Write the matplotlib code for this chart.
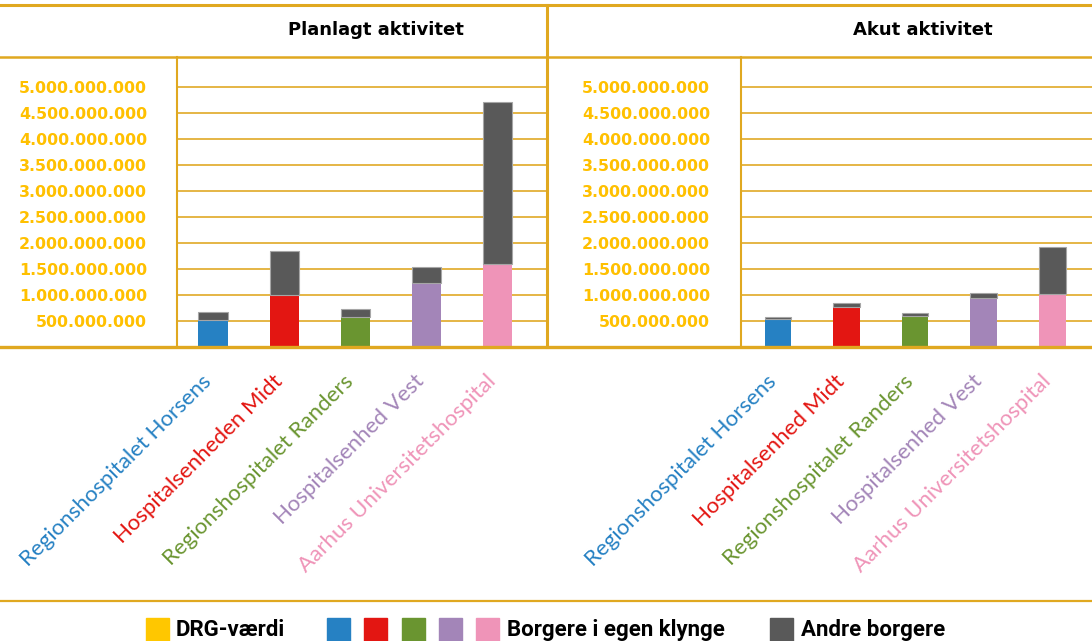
import matplotlib
matplotlib.use("Agg")
import matplotlib.pyplot as plt
from matplotlib.patches import Rectangle
from matplotlib.lines import Line2D
import matplotlib.transforms as mtransforms

# data (kr.)
hosp_plan = ['Regionshospitalet Horsens', 'Hospitalsenheden Midt', 'Regionshospitalet Randers',
             'Hospitalsenhed Vest', 'Aarhus Universitetshospital']
hosp_akut = ['Regionshospitalet Horsens', 'Hospitalsenhed Midt', 'Regionshospitalet Randers',
             'Hospitalsenhed Vest', 'Aarhus Universitetshospital']
egen_plan = [0.52e9, 1.00e9, 0.58e9, 1.23e9, 1.60e9]
andre_plan = [0.15e9, 0.85e9, 0.15e9, 0.31e9, 3.11e9]
egen_akut = [0.53e9, 0.77e9, 0.59e9, 0.95e9, 1.02e9]
andre_akut = [0.04e9, 0.08e9, 0.06e9, 0.09e9, 0.90e9]
yticks = [0.5e9, 1e9, 1.5e9, 2e9, 2.5e9, 3e9, 3.5e9, 4e9, 4.5e9, 5e9]
titles = ['Planlagt aktivitet', 'Akut aktivitet']
legend_labels = ['DRG-værdi', 'Borgere i egen klynge', 'Andre borgere']

hosp_colors = ['#2681C3', '#E31612', '#6A9530', '#A385B8', '#EF94B8']
dark = '#595959'
drg = '#FFC700'
gold = '#E0A820'
grid = '#E5B545'
lab_yellow = '#FFC000'

W, H = 1092, 641
fig = plt.figure(figsize=(W / 100, H / 100), dpi=100)

def fx(px):
    return px / W

def fy(py):
    return 1 - py / H

base = 347
top = 57
ymax = (base - top) / 52 * 1e9

def panel(left_px, right_px, xl, xr, width, names, egen, andre, pad):
    ax = fig.add_axes([fx(left_px), fy(base), fx(right_px - left_px), (base - top) / H])
    x = list(range(len(names)))
    ax.bar(x, egen, width=width, color=hosp_colors, zorder=3)
    ax.bar(x, andre, width=width, bottom=egen, color=dark, edgecolor='#A6A6A6',
           linewidth=0.8, zorder=3)
    ax.set_xlim(xl, xr)
    ax.set_ylim(0, ymax)
    ax.set_yticks(yticks)
    ax.set_yticklabels([f"{v:,.0f}".replace(",", ".") for v in yticks],
                       color=lab_yellow, fontweight='bold', fontsize=11.4)
    ax.yaxis.grid(True, color=grid, linewidth=1.4, zorder=0)
    ax.set_axisbelow(True)
    ax.tick_params(axis='y', length=0, pad=pad)
    ax.set_xticks([])
    # rotated category labels, top-right corner near each bar
    trans = ax.get_xaxis_transform() + mtransforms.ScaledTranslation(-12 / 100, -24 / 100,
                                                                       fig.dpi_scale_trans)
    for i, (name, c) in enumerate(zip(names, hosp_colors)):
        ax.text(i, 0, name, transform=trans, rotation=45, ha='right', va='top',
                rotation_mode='anchor', fontsize=16, color=c,
                family=['Lato', 'DejaVu Sans'], clip_on=False)
    for s in ax.spines.values():
        s.set_visible(False)
    return ax

panel(177, 547, -0.507, 4.70, 0.41, hosp_plan, egen_plan, andre_plan, 21.6)
panel(741, 1092, -0.54, 4.58, 0.39, hosp_akut, egen_akut, andre_akut, 22.3)

# frame lines
def hline(y, x0, x1, lw):
    fig.add_artist(Line2D([fx(x0), fx(x1)], [fy(y), fy(y)], color=gold, lw=lw, zorder=5))

def vline(x, y0, y1, lw):
    fig.add_artist(Line2D([fx(x), fx(x)], [fy(y0), fy(y1)], color=gold, lw=lw, zorder=5))

hline(5, 0, W, 2.2)
hline(57, 0, W, 1.8)
hline(base, 0, W, 2.4)
hline(601, 0, W, 1.6)
vline(546.5, 5, base, 2.2)
vline(177, 57, base, 1.5)
vline(741, 57, base, 1.5)

fig.text(fx(376), fy(30), titles[0], ha='center', va='center', fontsize=13, fontweight='bold')
fig.text(fx(923), fy(30), titles[1], ha='center', va='center', fontsize=13, fontweight='bold')

# legend
sq = 23
ly = 618
def square(x, c):
    fig.add_artist(Rectangle((fx(x), fy(ly + sq)), sq / W, sq / H, color=c,
                             transform=fig.transFigure))

leg_font = dict(fontsize=16, fontweight='bold', family=['Roboto', 'DejaVu Sans'],
                va='center', ha='left')
square(146, drg)
fig.text(fx(176), fy(630), legend_labels[0], **leg_font)
for xs, c in zip([327, 364, 402, 439, 476], hosp_colors):
    square(xs, c)
fig.text(fx(507), fy(630), legend_labels[1], **leg_font)
square(770, dark)
fig.text(fx(801), fy(630), legend_labels[2], **leg_font)

fig.savefig('out.png', dpi=100)
